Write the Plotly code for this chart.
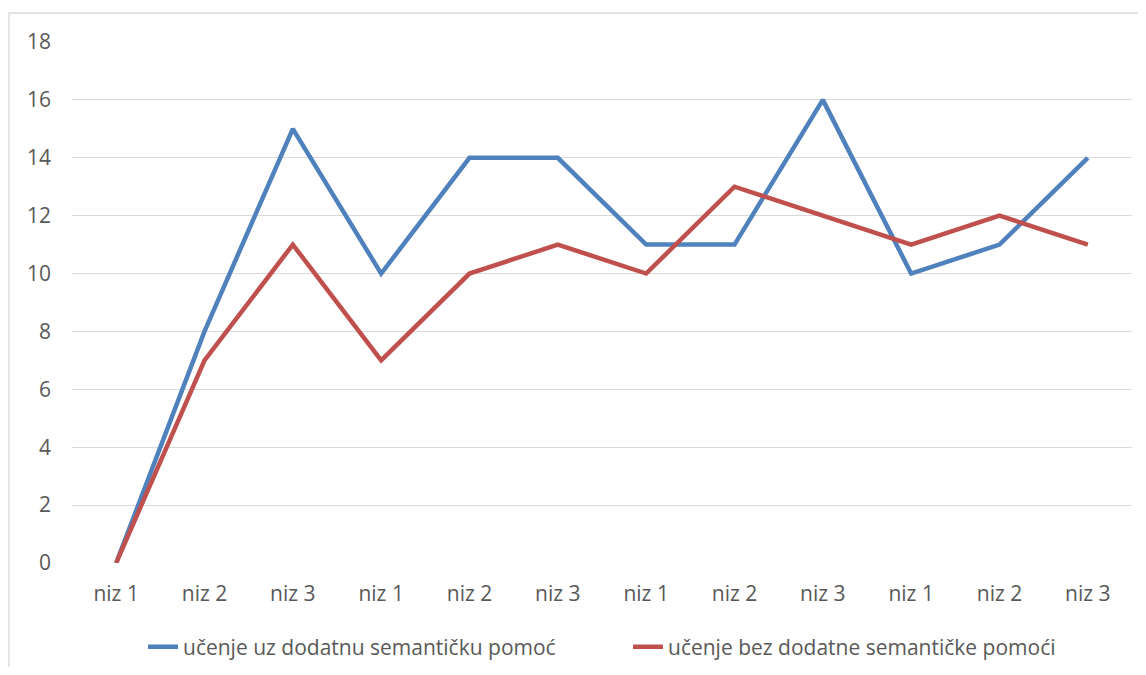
import plotly.graph_objects as go

categories = ["niz 1", "niz 2", "niz 3", "niz 1", "niz 2", "niz 3",
              "niz 1", "niz 2", "niz 3", "niz 1", "niz 2", "niz 3"]
series_with = [0, 8, 15, 10, 14, 14, 11, 11, 16, 10, 11, 14]
series_without = [0, 7, 11, 7, 10, 11, 10, 13, 12, 11, 12, 11]
name_with = "učenje uz dodatnu semantičku pomoć"
name_without = "učenje bez dodatne semantičke pomoći"
y_ticks = list(range(0, 19, 2))

x = list(range(len(categories)))

# page body has an 8px margin; figure coordinates are screen - 8
OFF = 8
W, H = 1146 - 2 * OFF, 675 - 2 * OFF
L, T = 72 - OFF, 42 - OFF
plot_right, plot_bottom = 1132 - OFF, 563 - OFF
R, B = W - plot_right, H - plot_bottom
pw, ph = plot_right - L, plot_bottom - T

FONT = "Open Sans, Lato, sans-serif"
font = dict(family=FONT, size=21, color="#595959")

fig = go.Figure()
fig.add_trace(go.Scatter(x=x, y=series_with, mode="lines", name=name_with,
                         line=dict(color="#4F81BD", width=4.5), cliponaxis=False))
fig.add_trace(go.Scatter(x=x, y=series_without, mode="lines", name=name_without,
                         line=dict(color="#C0504D", width=4.5), cliponaxis=False))

fig.update_layout(
    width=W, height=H,
    margin=dict(l=L, r=R, t=T, b=B, autoexpand=False),
    paper_bgcolor="white", plot_bgcolor="white",
    font=font,
    showlegend=True,
    legend=dict(orientation="h", x=(123 - OFF + 20 - L) / pw, xanchor="left",
                y=(plot_bottom - (647 - OFF)) / ph, yanchor="middle",
                font=dict(size=21, color="#595959", family=FONT),
                entrywidth=440, entrywidthmode="pixels",
                tracegroupgap=0, bgcolor="rgba(0,0,0,0)"),
    xaxis=dict(range=[-0.5, 11.5], tickmode="array", tickvals=x, ticktext=categories,
               showgrid=False, zeroline=False, showline=False, ticks="",
               ticklabelstandoff=16, fixedrange=True),
    yaxis=dict(range=[0, 18], tickmode="array", tickvals=y_ticks,
               ticktext=[str(v) for v in y_ticks],
               showgrid=True, gridcolor="#D9D9D9", gridwidth=1.3,
               zeroline=False, showline=False, ticks="",
               ticklabelstandoff=20, fixedrange=True),
    shapes=[dict(type="rect", xref="paper", yref="paper",
                 x0=(9 - OFF - L) / pw, x1=(W + 20 - L) / pw,
                 y0=(plot_bottom - (H + 20)) / ph, y1=(plot_bottom - (13 - OFF)) / ph,
                 line=dict(color="#D9D9D9", width=1.3), fillcolor="rgba(0,0,0,0)",
                 layer="below")],
)

fig.write_html("out.html")
